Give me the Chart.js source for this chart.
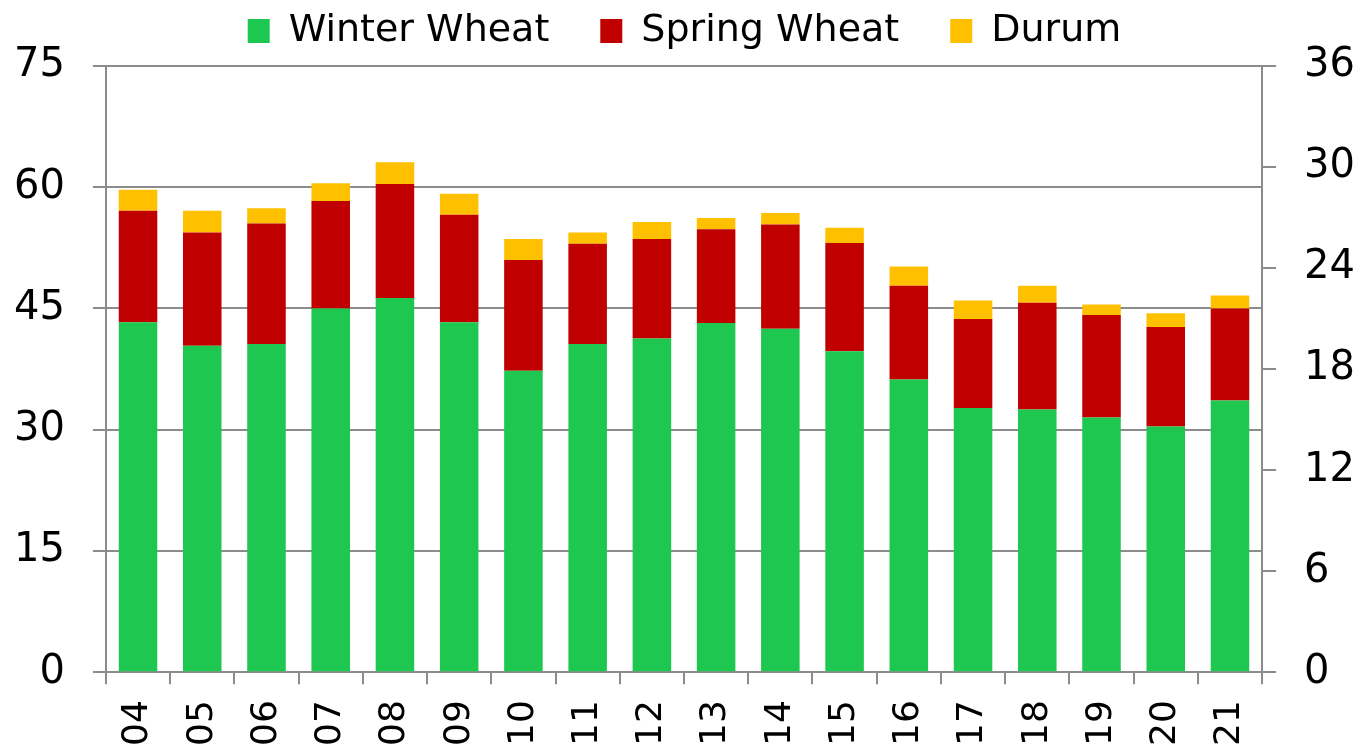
<!DOCTYPE html>
<html>
<head>
<meta charset="utf-8">
<script src="https://cdn.jsdelivr.net/npm/chart.js@4"></script>
<style>
  html, body { margin: 0; padding: 0; background: #fff; }
  #wrap { position: relative; width: 1363px; height: 749px; }
</style>
</head>
<body>
<div id="wrap"><canvas id="chart"></canvas></div>
<script>
const years = ['04', '05', '06', '07', '08', '09', '10', '11', '12', '13', '14', '15', '16', '17', '18', '19', '20', '21'];
const winterWheat = [43.3, 40.4, 40.6, 45.0, 46.3, 43.3, 37.3, 40.6, 41.3, 43.2, 42.5, 39.7, 36.2, 32.7, 32.5, 31.5, 30.4, 33.6];
const springWheat = [13.8, 14.0, 14.9, 13.3, 14.1, 13.3, 13.7, 12.4, 12.3, 11.6, 12.9, 13.4, 11.6, 11.0, 13.2, 12.7, 12.3, 11.4];
const durum = [2.6, 2.7, 1.9, 2.2, 2.7, 2.6, 2.6, 1.4, 2.1, 1.4, 1.4, 1.9, 2.4, 2.3, 2.1, 1.3, 1.7, 1.6];

const leftTicks = [0, 15, 30, 45, 60, 75];
const rightTicks = [0, 6, 12, 18, 24, 30, 36];

const FONT = "'DejaVu Sans', sans-serif";
const GRID = '#8c8c8c';

// a bit more room under the legend
const legendGap = {
  id: 'legendGap',
  beforeInit(chart) {
    const fit = chart.legend.fit;
    chart.legend.fit = function () {
      fit.bind(chart.legend)();
      this.height += 6;
    };
  },
};

const ctx = document.getElementById('chart').getContext('2d');
new Chart(ctx, {
  type: 'bar',
  plugins: [legendGap],
  data: {
    labels: years,
    datasets: [
      { label: 'Winter Wheat', data: winterWheat, backgroundColor: '#1ec850' },
      { label: 'Spring Wheat', data: springWheat, backgroundColor: '#c00000' },
      { label: 'Durum', data: durum, backgroundColor: '#ffc000' },
    ],
  },
  options: {
    responsive: true,
    maintainAspectRatio: false,
    animation: false,
    layout: { padding: { left: -14, right: -20, top: -39, bottom: -13 } },
    datasets: { bar: { categoryPercentage: 0.6, barPercentage: 1 } },
    plugins: {
      legend: {
        position: 'top',
        labels: {
          font: { family: FONT, size: 38 },
          color: '#000',
          boxWidth: 22,
          boxHeight: 24,
          padding: 51,
        },
      },
      tooltip: { enabled: false },
    },
    scales: {
      x: {
        stacked: true,
        grid: { drawOnChartArea: false, color: GRID, lineWidth: 2, tickLength: 12 },
        border: { color: GRID, width: 2 },
        ticks: {
          font: { family: FONT, size: 36 },
          color: '#000',
          minRotation: 90,
          maxRotation: 90,
          padding: 16,
        },
      },
      y: {
        stacked: true,
        min: 0,
        max: 75,
        afterBuildTicks: (axis) => { axis.ticks = leftTicks.map(v => ({ value: v })); },
        grid: { color: GRID, lineWidth: 2, tickLength: 13 },
        border: { color: GRID, width: 2 },
        ticks: { font: { family: FONT, size: 40 }, color: '#000', padding: 28 },
      },
      y2: {
        position: 'right',
        min: 0,
        max: 36,
        afterBuildTicks: (axis) => { axis.ticks = rightTicks.map(v => ({ value: v })); },
        grid: { drawOnChartArea: false, color: GRID, lineWidth: 2, tickLength: 14 },
        border: { color: GRID, width: 2 },
        ticks: { font: { family: FONT, size: 40 }, color: '#000', padding: 28 },
      },
    },
  },
});
</script>
</body>
</html>
